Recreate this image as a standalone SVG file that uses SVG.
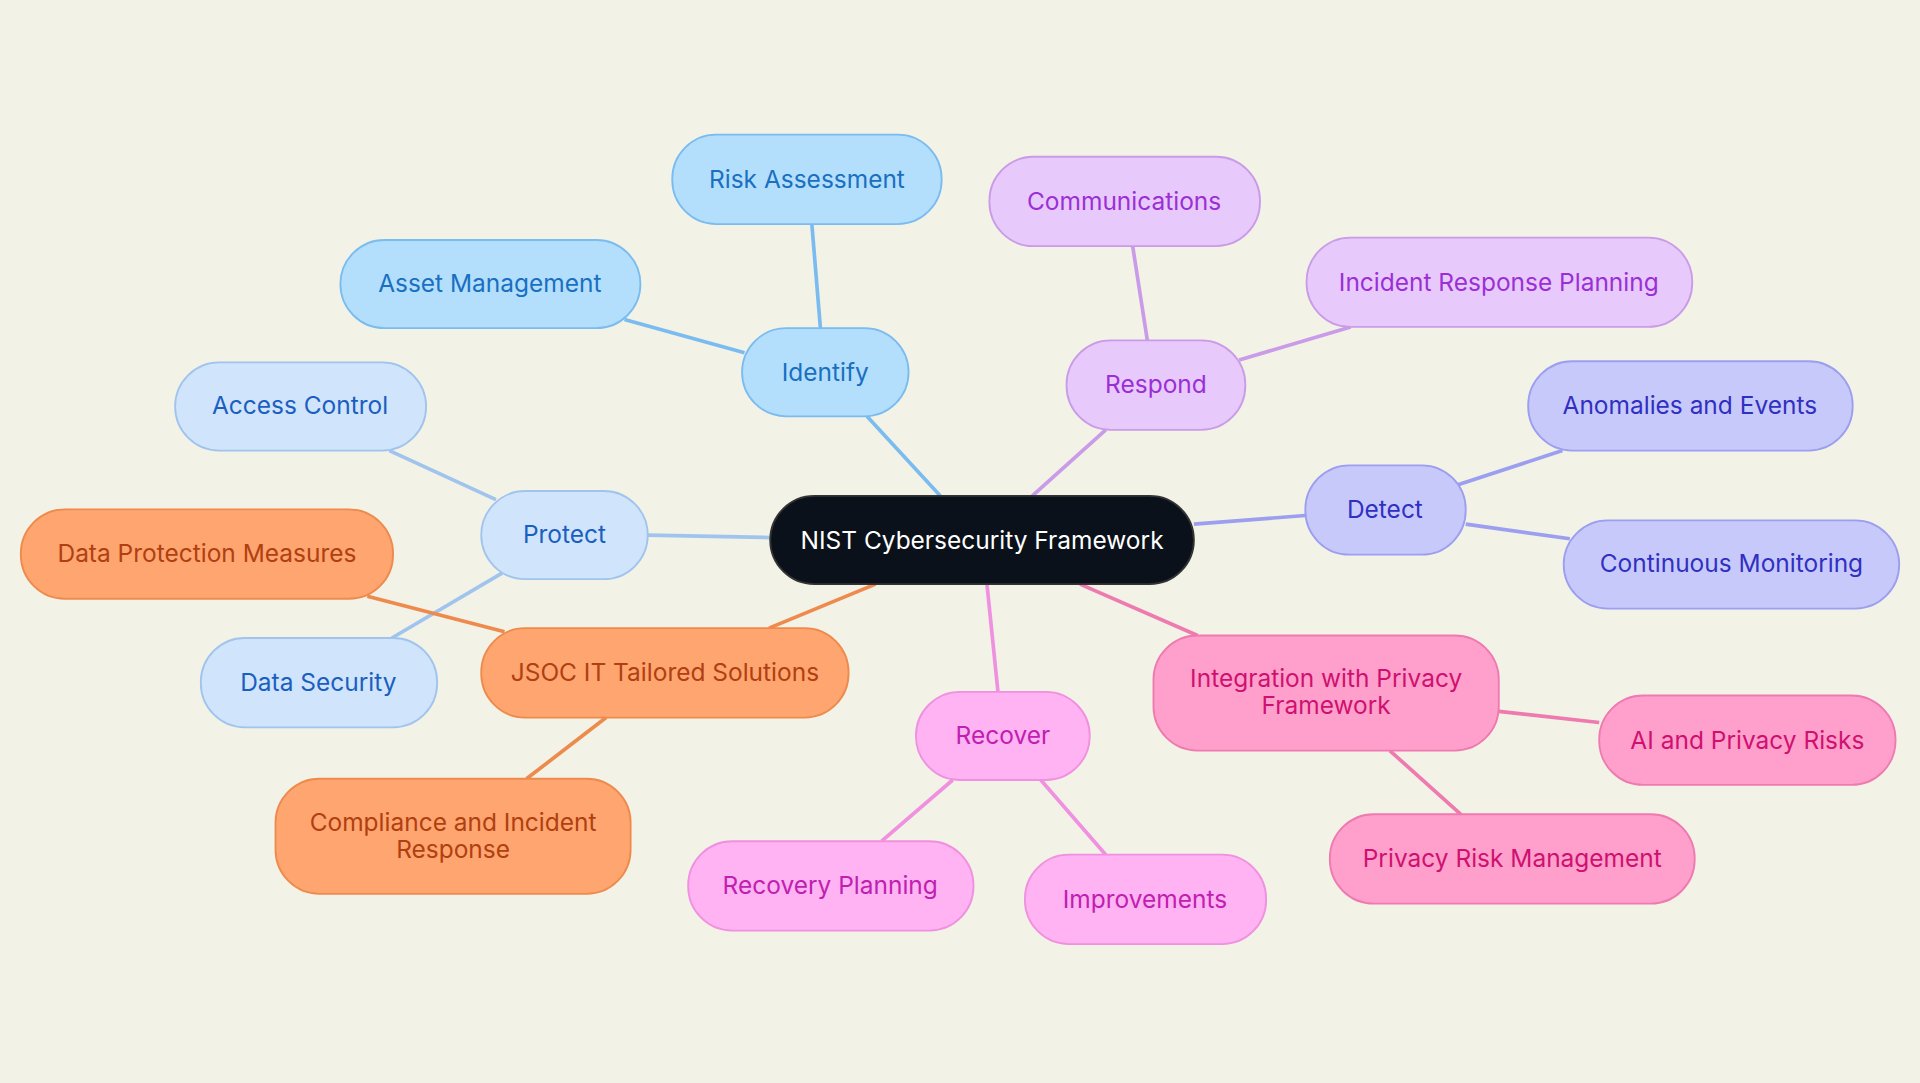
<svg xmlns="http://www.w3.org/2000/svg" width="1920" height="1083" viewBox="0 0 1920 1083">
<style>
text{font-family:Inter,"Noto Sans",sans-serif;font-size:20px;text-anchor:middle;dominant-baseline:central}
.c path{fill:none;stroke-width:3}
.b rect{fill:#b3dffd;stroke:#7bbcf0}.b text{fill:#1a6fc0}
.p rect{fill:#d0e4fb;stroke:#a0c4ee}.p text{fill:#1a5fc0}
.r rect{fill:#e8c9fb;stroke:#c99be8}.r text{fill:#9b2fd6}
.d rect{fill:#c8c9fb;stroke:#9c9ef0}.d text{fill:#3030c0}
.i rect{fill:#ffa0cc;stroke:#ee7ab0}.i text{fill:#d01070}
.v rect{fill:#ffb3f3;stroke:#f090e0}.v text{fill:#c020b0}
.o rect{fill:#ffa570;stroke:#ee8a4c}.o text{fill:#b04010}
rect{stroke-width:1.5}
</style>
<rect width="1920" height="1083" fill="#f2f2e6"/>
<g transform="scale(1.2245)">
<g class="c">
<path d="M768,405L708,340M670,268L663,183M608,288L510,261" stroke="#7bbcf0"/>
<path d="M629,439L529,437M405,408L318,368M410,468L320,521" stroke="#a0c4ee"/>
<path d="M715,477L628,513M412,516L300,487M495,586L430,636" stroke="#ee8a4c"/>
<path d="M806,477L815,565M778,637L720,687M850,637L903,698" stroke="#f090e0"/>
<path d="M882,477L978,519M1224,581L1306,590M1135,613L1193,665" stroke="#ee7ab0"/>
<path d="M843,405L903,351M937,278L925,201M1012,294L1103,267" stroke="#c99be8"/>
<path d="M975,428L1066,421M1190,396L1276,368M1197,428L1282,440" stroke="#9c9ef0"/>
</g>
<g id="center"><rect x="629" y="405" width="346" height="72" rx="36" fill="#0a111a" stroke="#333"/><text x="802" y="441" fill="#fff">NIST Cybersecurity Framework</text></g>
<g id="identify" class="b"><rect x="606" y="268" width="136" height="72" rx="36"/><text x="674" y="304">Identify</text></g>
<g id="risk" class="b"><rect x="549" y="110" width="220" height="73" rx="36"/><text x="659" y="146">Risk Assessment</text></g>
<g id="asset" class="b"><rect x="278" y="196" width="245" height="72" rx="36"/><text x="400" y="231">Asset Management</text></g>
<g id="protect" class="p"><rect x="393" y="401" width="136" height="72" rx="36"/><text x="461" y="436">Protect</text></g>
<g id="access" class="p"><rect x="143" y="296" width="205" height="72" rx="36"/><text x="245" y="331">Access Control</text></g>
<g id="datasec" class="p"><rect x="164" y="521" width="193" height="73" rx="36"/><text x="260" y="557">Data Security</text></g>
<g id="jsoc" class="o"><rect x="393" y="513" width="300" height="73" rx="36"/><text x="543" y="549">JSOC IT Tailored Solutions</text></g>
<g id="dpm" class="o"><rect x="17" y="416" width="304" height="73" rx="36"/><text x="169" y="452">Data Protection Measures</text></g>
<g id="comp" class="o"><rect x="225" y="636" width="290" height="94" rx="36"/><text x="370" y="671">Compliance and Incident</text><text x="370" y="693">Response</text></g>
<g id="recover" class="v"><rect x="748" y="565" width="142" height="72" rx="36"/><text x="819" y="600">Recover</text></g>
<g id="recplan" class="v"><rect x="562" y="687" width="233" height="73" rx="36"/><text x="678" y="723">Recovery Planning</text></g>
<g id="improve" class="v"><rect x="837" y="698" width="197" height="73" rx="36"/><text x="935" y="734">Improvements</text></g>
<g id="integ" class="i"><rect x="942" y="519" width="282" height="94" rx="36"/><text x="1083" y="554">Integration with Privacy</text><text x="1083" y="576">Framework</text></g>
<g id="ai" class="i"><rect x="1306" y="568" width="242" height="73" rx="36"/><text x="1427" y="604">AI and Privacy Risks</text></g>
<g id="prm" class="i"><rect x="1086" y="665" width="298" height="73" rx="36"/><text x="1235" y="701">Privacy Risk Management</text></g>
<g id="respond" class="r"><rect x="871" y="278" width="146" height="73" rx="36"/><text x="944" y="314">Respond</text></g>
<g id="comm" class="r"><rect x="808" y="128" width="221" height="73" rx="36"/><text x="918" y="164">Communications</text></g>
<g id="irp" class="r"><rect x="1067" y="194" width="315" height="73" rx="36"/><text x="1224" y="230">Incident Response Planning</text></g>
<g id="detect" class="d"><rect x="1066" y="380" width="131" height="73" rx="36"/><text x="1131" y="416">Detect</text></g>
<g id="anom" class="d"><rect x="1248" y="295" width="265" height="73" rx="36"/><text x="1380" y="331">Anomalies and Events</text></g>
<g id="cont" class="d"><rect x="1277" y="425" width="274" height="72" rx="36"/><text x="1414" y="460">Continuous Monitoring</text></g>
</g>
</svg>
